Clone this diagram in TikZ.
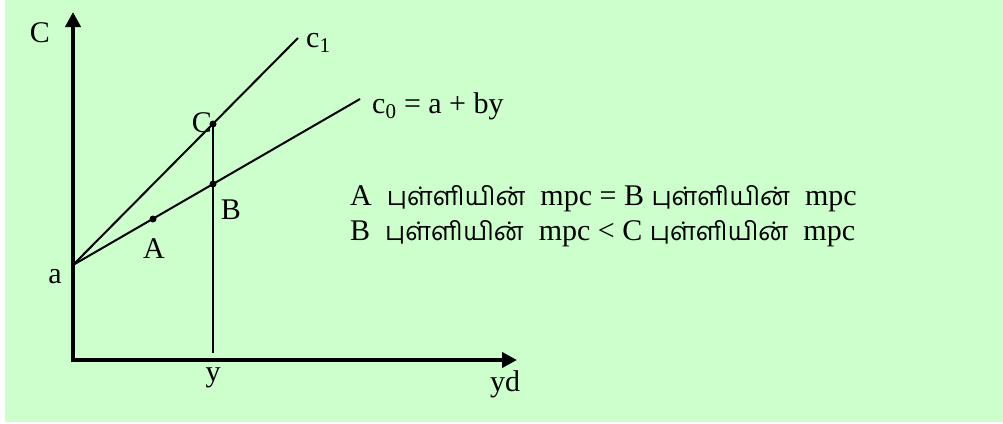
\documentclass[tikz,border=0pt]{standalone}
\usepackage{fontspec}
\setmainfont{Liberation Serif}
\newfontfamily\tamilfont[Script=Tamil, Scale=0.85]{Hind Madurai}
\usetikzlibrary{arrows.meta, positioning}
\definecolor{bggreen}{HTML}{CCFFCC}
\newcommand{\pulli}{{\tamilfont புள்ளியின்}}

\begin{document}
\begin{tikzpicture}[
  x=1pt, y=-1pt,
  font=\fontsize{30}{36}\selectfont,
  axis/.style={line width=4pt, {Triangle[length=15pt, width=15pt]}-{Triangle[length=15pt, width=15pt]}},
  curve/.style={line width=2pt},
  dot/.style={circle, fill, inner sep=0pt, minimum size=7pt},
  lbl/.style={inner sep=0pt, anchor=base}
]
\useasboundingbox (0,0) rectangle (1003,423);
\fill[bggreen] (5,0) rectangle (1003,422);

% axes
\coordinate (ytop) at (73,12);
\coordinate (O) at (73,360);
\coordinate (xend) at (517,360);
\draw[axis] (ytop) -- (O) -- (xend);

% consumption lines
\coordinate (a) at (73,265);
\coordinate (c1end) at (298,38);
\coordinate (c0end) at (360,99);
\draw[curve] (a) -- (c1end);
\draw[curve] (a) -- (c0end);

\node[dot] (A) at (153,219) {};
\node[dot] (B) at (213,184) {};
\node[dot] (C) at (213,124) {};
\coordinate (yfoot) at (213,353);
\draw[curve] (C.center) -- (yfoot);

% labels
\node[lbl] (Clab) at (40,42) {C};
\node[lbl] (alab) at (55,283) {a};
\node[lbl] (Cpt) at (202,132) {C};
\node[lbl] (Bpt) at (231,219) {B};
\node[lbl] (Apt) at (154,258) {A};
\node[lbl] (ylab) at (213,381) {y};
\node[lbl] (ydlab) at (505,391) {yd};
\node[lbl, anchor=base west] (c1lab) at (306,47) {c\textsubscript{1}};
\node[lbl, anchor=base west] (c0lab) at (372,113) {c\textsubscript{0} = a + by};

% comparison text
\node[lbl, anchor=base west] (line1) at (350,205) {A\ \ \pulli\ \ mpc = B \pulli\ \ mpc};
\node[lbl, anchor=base west] (line2) at (350,240) {B\ \ \pulli\ \ mpc < C \pulli\ \ mpc};
\end{tikzpicture}
\end{document}
